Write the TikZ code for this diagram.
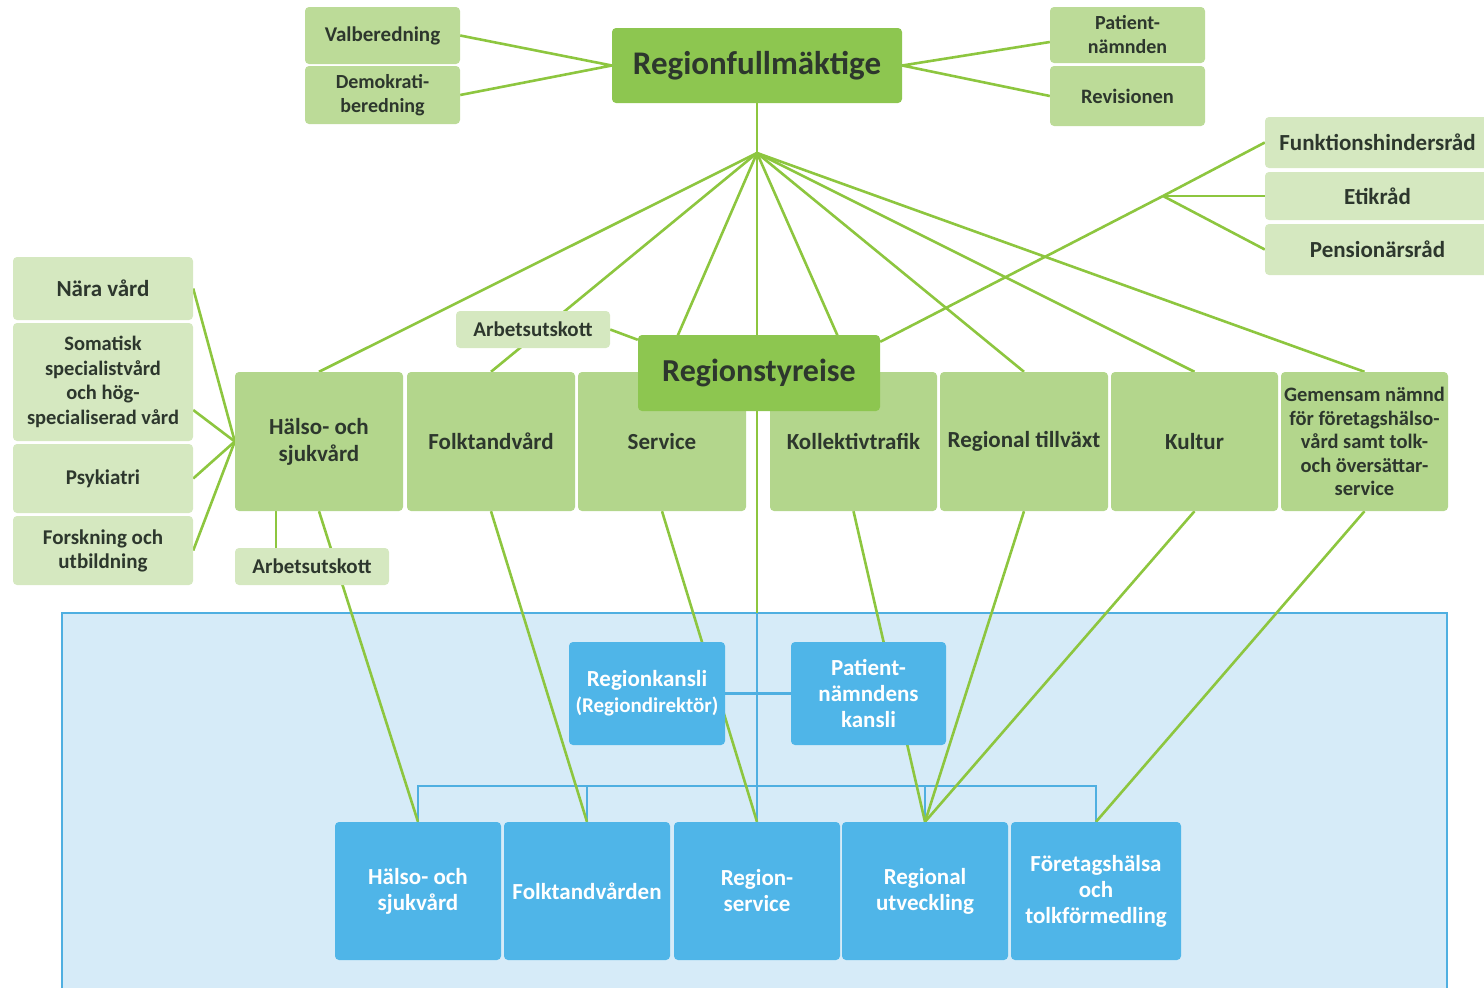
\documentclass[tikz,border=0pt]{standalone}
\usepackage{fontspec}
\setmainfont{Carlito}
\definecolor{gdark}{RGB}{141,198,80}
\definecolor{gmid}{RGB}{179,214,140}
\definecolor{gpale}{RGB}{188,219,152}
\definecolor{glight}{RGB}{213,232,192}
\definecolor{gline}{RGB}{141,198,63}
\definecolor{txt}{RGB}{45,55,45}
\definecolor{bbox}{RGB}{79,181,232}
\definecolor{bfill}{RGB}{214,235,248}
\definecolor{bedge}{RGB}{79,175,225}
\pgfdeclarelayer{bottom}
\pgfdeclarelayer{lines}
\pgfsetlayers{bottom,lines,main}
\tikzset{
  box/.style={rectangle, rounded corners=4pt, inner sep=0pt, align=center, text=txt,
    font=\bfseries\fontsize{20}{24}\selectfont},
  sz/.style 2 args={minimum width=#1, minimum height=#2},
  dk/.style={box, fill=gdark, font=\bfseries\fontsize{33}{38}\selectfont},
  md/.style={box, fill=gmid, font=\bfseries\fontsize{23}{27}\selectfont},
  pl/.style={box, fill=gpale},
  lt/.style={box, fill=glight},
  big/.style={font=\bfseries\fontsize{23}{27}\selectfont},
  bl/.style={box, fill=bbox, text=white, font=\bfseries\fontsize{23}{26}\selectfont},
  gl/.style={draw=gline, line width=2.6pt},
  bll/.style={draw=bedge, line width=2.4pt},
}
\begin{document}
\begin{tikzpicture}[x=1pt,y=-1pt]
\useasboundingbox (0,0) rectangle (1484,988);
% top
\node[pl, sz={155pt}{57pt}, font=\bfseries\fontsize{21}{24}\selectfont] (val) at (382.5,35.5) {Valberedning};
\node[pl, sz={155pt}{58pt}] (dem) at (382.5,95) {Demokrati-\\beredning};
\node[dk, sz={290pt}{75pt}] (rfm) at (757,65.5) {Regionfullmäktige};
\node[pl, sz={155pt}{56pt}] (pat) at (1127.5,35) {Patient-\\nämnden};
\node[pl, sz={155pt}{60pt}, font=\bfseries\fontsize{20.5}{24}\selectfont] (rev) at (1127.5,96) {Revisionen};
% right
\node[lt, big, sz={225pt}{51pt}] (fun) at (1377.5,142.5) {Funktionshindersråd};
\node[lt, big, sz={225pt}{48pt}] (eti) at (1377.5,196) {Etikråd};
\node[lt, big, sz={225pt}{51pt}] (pen) at (1377.5,249.5) {Pensionärsråd};
% left
\node[lt, big, sz={180pt}{63pt}] (nara) at (103,288.5) {Nära vård};
\node[lt, sz={180pt}{118pt}, font=\bfseries\fontsize{20.5}{24.5}\selectfont] (soma) at (103,382) {Somatisk\\specialistvård\\och hög-\\specialiserad vård};
\node[lt, sz={180pt}{69pt}, font=\bfseries\fontsize{21}{24}\selectfont] (psy) at (103,478.5) {Psykiatri};
\node[lt, sz={180pt}{69pt}, font=\bfseries\fontsize{21}{24}\selectfont] (fors) at (103,550.5) {Forskning och\\utbildning};
% committees
\node[md, sz={168pt}{139pt}] (hs) at (319,441.5) {Hälso- och\\sjukvård};
\node[md, sz={168pt}{139pt}] (ft) at (491,441.5) {Folktandvård};
\node[md, sz={168pt}{139pt}] (se) at (662,441.5) {Service};
\node[md, sz={167pt}{139pt}] (kt) at (853.5,441.5) {Kollektivtrafik};
\node[md, sz={168pt}{139pt}] (rt) at (1024,441.5) {Regional tillväxt};
\node[md, sz={167pt}{139pt}] (ku) at (1194.5,441.5) {Kultur};
\node[md, sz={167pt}{139pt}, font=\bfseries\fontsize{20.5}{23.5}\selectfont] (ge) at (1364.5,441.5) {Gemensam nämnd\\för företagshälso-\\vård samt tolk-\\och översättar-\\service};
\node[dk, sz={242pt}{76pt}, font=\bfseries\fontsize{32}{38}\selectfont] (rs) at (759,373) {Regionstyreise};
\node[lt, sz={154pt}{37pt}, font=\bfseries\fontsize{21}{24}\selectfont] (au1) at (533,329.5) {Arbetsutskott};
\node[lt, sz={154pt}{37pt}, font=\bfseries\fontsize{21}{24}\selectfont] (au2) at (312,566.5) {Arbetsutskott};
% blue
\node[bl, sz={156pt}{103pt}] (rk) at (647,693.5) {Regionkansli\\{\fontsize{21}{26}\selectfont(Regiondirektör)}};
\node[bl, sz={155pt}{103pt}] (pk) at (868.5,693.5) {Patient-\\nämndens\\kansli};
\node[bl, sz={166pt}{138pt}] (b1) at (418,891) {Hälso- och\\sjukvård};
\node[bl, sz={166pt}{138pt}] (b2) at (587,891) {Folktandvården};
\node[bl, sz={166pt}{138pt}] (b3) at (757,891) {Region-\\service};
\node[bl, sz={166pt}{138pt}] (b4) at (925,891) {Regional\\utveckling};
\node[bl, sz={170pt}{138pt}] (b5) at (1096,891) {Företagshälsa\\och\\tolkförmedling};
\coordinate (hub) at (757,153);
\coordinate (jn) at (1163,196);
\coordinate (vtop) at (757,613);
\coordinate (bus) at (0,786);
\begin{pgfonlayer}{bottom}
  \fill[bfill] (62,613) rectangle (1447,992);
  \draw[bedge, line width=2.5pt] (62,992) -- (62,613) -- (1447,613) -- (1447,992);
\end{pgfonlayer}
\begin{pgfonlayer}{lines}
  % top
  \draw[gl] (val.east) -- (rfm.west) -- (dem.east);
  \draw[gl] ([yshift=-7pt]pat.west) -- (rfm.east) -- (rev.west);
  \draw[gl] (rfm.south) -- (vtop);
  \foreach \t in {hs,ft,se,kt,rt,ku,ge} \draw[gl] (hub) -- (\t.north);
  \draw[gl] (au1.east) -- ([yshift=-5pt]rs.north west);
  \draw[gl] ([yshift=-7pt]rs.north east) -- (jn);
  \foreach \t in {fun,eti,pen} \draw[gl] (jn) -- (\t.west);
  % left
  \draw[gl] (nara.east) -- (hs.west);
  \draw[gl] ([yshift=-28pt]soma.east) -- (hs.west);
  \draw[gl] (psy.east) -- (hs.west);
  \draw[gl] (fors.east) -- (hs.west);
  \draw[gl] ([xshift=41pt]hs.south west) -- ([xshift=41pt]au2.north west);
  % blue links
  \draw[bll] (vtop) -- (b3.north);
  \draw[bll] (rk.east) -- (pk.west);
  \draw[bll] (b1.north) -- (b1.north |- bus) -- (b5.north |- bus) -- (b5.north);
  \draw[bll] (b2.north) -- (b2.north |- bus);
  \draw[bll] (b4.north) -- (b4.north |- bus);
  % down
  \draw[gl] (hs.south) -- (b1.north);
  \draw[gl] (ft.south) -- (b2.north);
  \draw[gl] (se.south) -- (b3.north);
  \draw[gl] (kt.south) -- (b4.north);
  \draw[gl] (rt.south) -- (b4.north);
  \draw[gl] (ku.south) -- (b4.north);
  \draw[gl] (ge.south) -- (b5.north);
\end{pgfonlayer}
\end{tikzpicture}
\end{document}
